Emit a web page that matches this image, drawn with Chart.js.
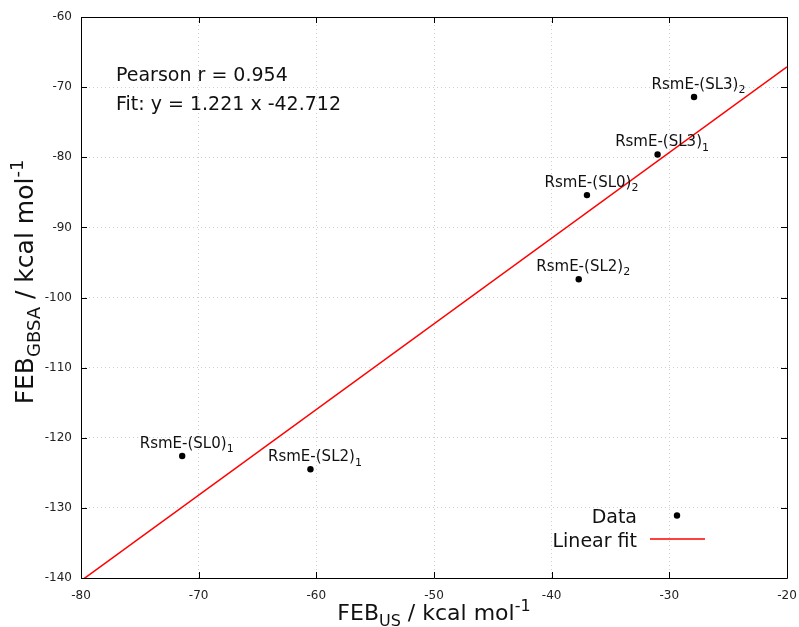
<!DOCTYPE html>
<html>
<head>
<meta charset="utf-8">
<script src="https://cdn.jsdelivr.net/npm/chart.js@4.4.1/dist/chart.umd.min.js"></script>
<style>
  html, body { margin: 0; padding: 0; background: #fff; }
  #wrap { width: 799px; height: 627px; }
</style>
</head>
<body>
<div id="wrap"><canvas id="c" width="799" height="627"></canvas></div>
<script>
// ── FEB scatter: GBSA vs US, with linear fit ──

const FONT = '"DejaVu Sans", "Liberation Sans", sans-serif';

// points
const pointBase = ['RsmE-(SL0)', 'RsmE-(SL2)', 'RsmE-(SL0)', 'RsmE-(SL2)', 'RsmE-(SL3)', 'RsmE-(SL3)'];
const pointSub  = ['1', '1', '2', '2', '1', '2'];
const febUS     = [-71.4, -60.5, -37.0, -37.7, -31.0, -27.9];
const febGBSA   = [-122.6, -124.5, -85.4, -97.4, -79.6, -71.4];

// fit line end points (y = 1.221 x - 42.712 over the x range)
const fitX = [-80, -20];
const fitY = [-140.4, -67.1];

const statLines = ['Pearson r = 0.954', 'Fit: y = 1.221 x -42.712'];
const legendLabels = ['Data', 'Linear fit'];

const xTicks = [-80, -70, -60, -50, -40, -30, -20];
const yTicks = [-140, -130, -120, -110, -100, -90, -80, -70, -60];

// draw text made of plain / sub / sup parts, x is the left edge
function richWidth(ctx, parts, size) {
  let w = 0;
  parts.forEach(p => {
    ctx.font = (p.sub || p.sup ? Math.round(size * 0.72) : size) + 'px ' + FONT;
    w += ctx.measureText(p.t).width;
  });
  return w;
}
function drawRich(ctx, parts, x, y, size) {
  parts.forEach(p => {
    const s = p.sub || p.sup ? Math.round(size * 0.72) : size;
    ctx.font = s + 'px ' + FONT;
    const dy = p.sub ? size * 0.28 : p.sup ? -size * 0.42 : 0;
    ctx.fillText(p.t, x, y + dy);
    x += ctx.measureText(p.t).width;
  });
}

const overlay = {
  id: 'overlay',
  afterDraw(chart) {
    const ctx = chart.ctx;
    const a = chart.chartArea;
    const xs = chart.scales.x, ys = chart.scales.y;
    ctx.save();

    // frame + inward ticks on all four sides
    ctx.strokeStyle = '#000';
    ctx.lineWidth = 1;
    ctx.beginPath();
    ctx.rect(Math.round(a.left) + 0.5, Math.round(a.top) + 0.5,
             Math.round(a.right - a.left), Math.round(a.bottom - a.top));
    const tl = 6;
    xTicks.forEach(v => {
      const px = Math.round(xs.getPixelForValue(v)) + 0.5;
      ctx.moveTo(px, a.bottom); ctx.lineTo(px, a.bottom - tl);
      ctx.moveTo(px, a.top); ctx.lineTo(px, a.top + tl);
    });
    yTicks.forEach(v => {
      const py = Math.round(ys.getPixelForValue(v)) + 0.5;
      ctx.moveTo(a.left, py); ctx.lineTo(a.left + tl, py);
      ctx.moveTo(a.right, py); ctx.lineTo(a.right - tl, py);
    });
    ctx.stroke();

    // point labels
    ctx.fillStyle = '#111';
    ctx.textBaseline = 'alphabetic';
    ctx.textAlign = 'left';
    febUS.forEach((xv, i) => {
      const px = xs.getPixelForValue(xv), py = ys.getPixelForValue(febGBSA[i]);
      ctx.font = '15px ' + FONT;
      const w = ctx.measureText(pointBase[i]).width;
      drawRich(ctx, [{ t: pointBase[i] }, { t: pointSub[i], sub: true }], px - w / 2 + 1, py - 8, 15);
    });

    // stats text
    ctx.font = '19px ' + FONT;
    ctx.fillText(statLines[0], a.left + 35, a.top + 64);
    ctx.fillText(statLines[1], a.left + 35, a.top + 93);

    // legend, right aligned labels
    ctx.font = '19px ' + FONT;
    ctx.textAlign = 'right';
    ctx.fillText(legendLabels[0], 637, 523);
    ctx.fillText(legendLabels[1], 637, 547);
    ctx.fillStyle = '#000';
    ctx.beginPath();
    ctx.arc(677, 515.5, 3.2, 0, Math.PI * 2);
    ctx.fill();
    ctx.strokeStyle = '#ff0000';
    ctx.lineWidth = 1.5;
    ctx.beginPath();
    ctx.moveTo(650, 539);
    ctx.lineTo(705, 539);
    ctx.stroke();

    // axis titles
    ctx.fillStyle = '#111';
    ctx.textAlign = 'left';
    const xt = [{ t: 'FEB' }, { t: 'US', sub: true }, { t: ' / kcal mol' }, { t: '-1', sup: true }];
    const xw = richWidth(ctx, xt, 22);
    drawRich(ctx, xt, (a.left + a.right) / 2 - xw / 2, 620, 22);

    const yt = [{ t: 'FEB' }, { t: 'GBSA', sub: true }, { t: ' / kcal mol' }, { t: '-1', sup: true }];
    const yw = richWidth(ctx, yt, 25);
    ctx.translate(33, 282);
    ctx.rotate(-Math.PI / 2);
    drawRich(ctx, yt, -yw / 2, 0, 25);

    ctx.restore();
  }
};

const tickFont = { family: FONT, size: 12 };

new Chart(document.getElementById('c'), {
  type: 'scatter',
  data: {
    datasets: [
      {
        label: legendLabels[0],
        data: febUS.map((x, i) => ({ x, y: febGBSA[i] })),
        backgroundColor: '#000', borderWidth: 0, pointRadius: 3.2, pointHoverRadius: 3.2
      },
      {
        label: legendLabels[1],
        type: 'line',
        data: fitX.map((x, i) => ({ x, y: fitY[i] })),
        borderColor: '#ff0000', borderWidth: 1.5, pointRadius: 0, fill: false, tension: 0
      }
    ]
  },
  options: {
    responsive: false, animation: false,
    layout: { padding: { top: 17, right: 12, left: 0, bottom: 0 } },
    plugins: { legend: { display: false }, tooltip: { enabled: false } },
    scales: {
      x: {
        type: 'linear', min: -80, max: -20,
        afterBuildTicks: s => { s.ticks = xTicks.map(v => ({ value: v })); },
        afterFit: s => { s.height = 49; s.paddingLeft = 0; s.paddingRight = 0; },
        ticks: { font: tickFont, color: '#222', padding: 11 },
        grid: { color: '#cfcfcf', drawTicks: false, lineWidth: 1 },
        border: { display: false, dash: [1, 3] }
      },
      y: {
        type: 'linear', min: -140, max: -60,
        afterBuildTicks: s => { s.ticks = yTicks.map(v => ({ value: v })); },
        afterFit: s => { s.width = 81; s.paddingTop = 0; s.paddingBottom = 0; },
        ticks: { font: tickFont, color: '#222', padding: 9 },
        grid: { color: '#cfcfcf', drawTicks: false, lineWidth: 1 },
        border: { display: false, dash: [1, 3] }
      }
    }
  },
  plugins: [overlay]
});
</script>
</body>
</html>
